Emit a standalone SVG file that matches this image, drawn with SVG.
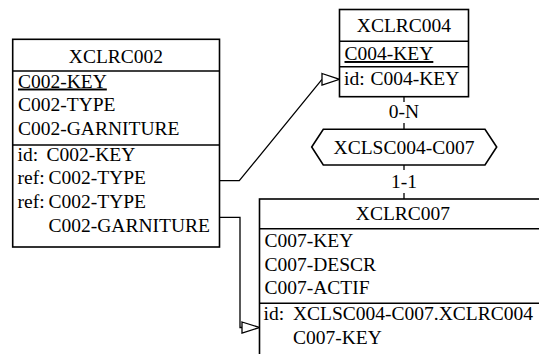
<svg xmlns="http://www.w3.org/2000/svg" width="539" height="354" viewBox="0 0 539 354">
<style>
.box{fill:#fff;stroke:#000;stroke-width:1.6}
.div{stroke:#000;stroke-width:1.6}
.ln{fill:none;stroke:#000;stroke-width:1.3}
.arr{fill:#fff;stroke:#000;stroke-width:1.3}
.c{text-anchor:middle}
.u{text-decoration:underline}
</style>
<rect width="539" height="354" fill="#fff"/>
<g font-family="'Liberation Serif', 'Times New Roman', serif" font-size="19.5" fill="#000">
<g id="connectors">
<polyline class="ln" points="219.5,180.7 239.3,180.7 322,79.3"/>
<polygon class="arr" points="322,73.5 339.5,79.3 322,85"/>
<polyline class="ln" points="219.5,217.3 240,217.3 240,327.5 242,327.5"/>
<polygon class="arr" points="242,322 259.5,327.5 242,333"/>
<line class="ln" x1="404" y1="96.7" x2="404" y2="102"/>
<line class="ln" x1="404" y1="123" x2="404" y2="129.3"/>
<line class="ln" x1="404" y1="165" x2="404" y2="170"/>
<line class="ln" x1="404" y1="193" x2="404" y2="199"/>
<text class="c" x="404" y="118">0-N</text>
<text class="c" x="404" y="188">1-1</text>
</g>
<g id="XCLRC002">
<rect class="box" x="12.7" y="39.3" width="206.8" height="207.7"/>
<line class="div" x1="12.7" y1="71" x2="219.5" y2="71"/>
<line class="div" x1="12.7" y1="145" x2="219.5" y2="145"/>
<text class="c" x="116" y="63">XCLRC002</text>
<text class="u" x="18" y="87.5">C002-KEY</text>
<text x="18" y="111">C002-TYPE</text>
<text x="18" y="134.5">C002-GARNITURE</text>
<text x="17.5" y="160.5">id:</text>
<text x="46.5" y="160.5">C002-KEY</text>
<text x="17.5" y="184.3">ref:</text>
<text x="48.5" y="184.3">C002-TYPE</text>
<text x="17.5" y="208">ref:</text>
<text x="48.5" y="208">C002-TYPE</text>
<text x="48.5" y="231.8">C002-GARNITURE</text>
</g>
<g id="XCLRC004">
<rect class="box" x="339.5" y="9.5" width="129" height="87.2"/>
<line class="div" x1="339.5" y1="41.3" x2="468.5" y2="41.3"/>
<line class="div" x1="339.5" y1="66.7" x2="468.5" y2="66.7"/>
<text class="c" x="404" y="32.3">XCLRC004</text>
<text class="u" x="344.5" y="60">C004-KEY</text>
<text x="344" y="85">id:</text>
<text x="370.5" y="85">C004-KEY</text>
</g>
<g id="XCLSC004-C007">
<polygon class="box" points="311.7,147 323.3,129.3 485,129.3 496.7,147 485,165 323.3,165"/>
<text class="c" x="404" y="153.5">XCLSC004-C007</text>
</g>
<g id="XCLRC007">
<rect class="box" x="259.5" y="199" width="290" height="170"/>
<line class="div" x1="259.5" y1="228.7" x2="549.5" y2="228.7"/>
<line class="div" x1="259.5" y1="303.3" x2="549.5" y2="303.3"/>
<text class="c" x="403" y="220">XCLRC007</text>
<text x="264.5" y="247">C007-KEY</text>
<text x="264.5" y="270.5">C007-DESCR</text>
<text x="264.5" y="294">C007-ACTIF</text>
<text x="263.5" y="320">id:</text>
<text x="293" y="320">XCLSC004-C007.XCLRC004</text>
<text x="293" y="343.5">C007-KEY</text>
</g>
</g>
</svg>
